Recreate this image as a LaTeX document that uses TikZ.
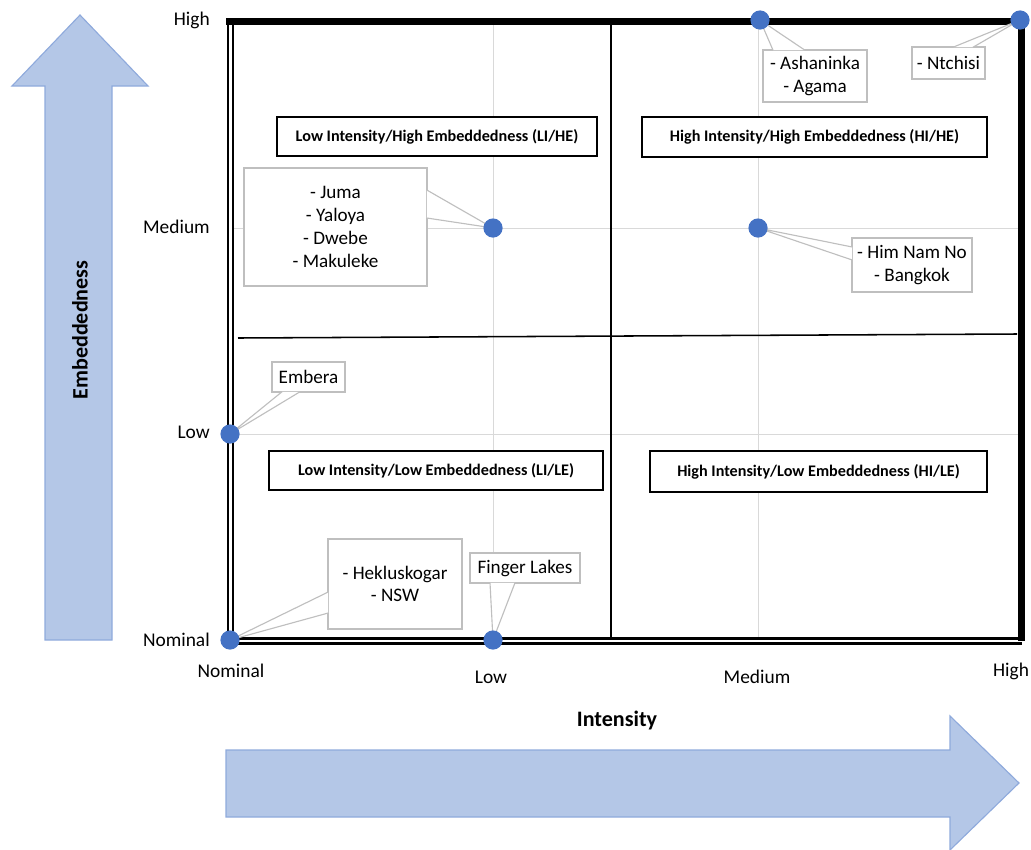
\documentclass[tikz,border=0pt]{standalone}
\usepackage{fontspec}
\setmainfont{Carlito}
\usetikzlibrary{calc}
\definecolor{dotblue}{HTML}{4472C4}
\definecolor{arrowfill}{HTML}{B4C7E7}
\definecolor{arrowline}{HTML}{8FAADC}
\definecolor{gridgray}{HTML}{D9D9D9}
\definecolor{callgray}{HTML}{BFBFBF}
\begin{document}
\begin{tikzpicture}[x={(0.025cm,0cm)}, y={(0cm,-0.025cm)}]
\useasboundingbox (0,0) rectangle (1031,849);
%styles des noeuds
\tikzstyle{tick}=[rectangle, text=black, inner sep=0pt, font=\fontsize{13.8}{16}\selectfont]
\tikzstyle{axis}=[rectangle, text=black, inner sep=0pt, font=\bfseries\fontsize{15.7}{18}\selectfont]
\tikzstyle{quad}=[rectangle, draw=black, line width=1.4pt, fill=white, inner sep=0pt, font=\bfseries\fontsize{11.5}{14}\selectfont]
\tikzstyle{callout}=[rectangle, draw=callgray, line width=0.8pt, fill=white, inner sep=0pt, align=center, font=\fontsize{13.6}{16.2}\selectfont]
\tikzstyle{wedge}=[fill=white, draw=callgray, line width=0.8pt]
\tikzstyle{dot}=[circle, fill=dotblue, inner sep=0pt, minimum size=0.48cm]
\tikzstyle{bigarrow}=[fill=arrowfill, draw=arrowline, line width=0.8pt]
%fleches
\filldraw[bigarrow] (45,640) -- (45,86) -- (12,86) -- (80,15) -- (148,86) -- (112,86) -- (112,640) -- cycle;
\filldraw[bigarrow] (226,750) -- (950,750) -- (950,716) -- (1019,783) -- (950,850) -- (950,817) -- (226,817) -- cycle;
\node[axis, rotate=90] (embed) at (80,330) {Embeddedness};
\node[axis] (intens) at (617,720) {Intensity};
%grille
\draw[gridgray, line width=0.7pt] (493,20) -- (493,640);
\draw[gridgray, line width=0.7pt] (758,20) -- (758,640);
\draw[gridgray, line width=0.7pt] (230,228) -- (1022,228);
\draw[gridgray, line width=0.7pt] (230,434) -- (1022,434);
% quadrants
\draw[line width=1.1pt] (611,20) -- (611,640);
\draw[line width=1.1pt] (238,338) -- (1017,334);
%cadre
\draw[double=white, double distance=1.7pt, line width=1.85pt] (230.5,18) -- (230.5,641) -- (1022,641);
\draw[line width=5pt] (226,21.5) -- (1021.5,21.5) -- (1021.5,641);
%graduations
\node[tick, anchor=east] (yhigh) at (210,20) {High};
\node[tick, anchor=east] (ymed) at (210,227) {Medium};
\node[tick, anchor=east] (ylow) at (210,432) {Low};
\node[tick, anchor=east] (ynom) at (210,640) {Nominal};
\node[tick] (xnom) at (231,671) {Nominal};
\node[tick] (xlow) at (491,677) {Low};
\node[tick] (xmed) at (757,677) {Medium};
\node[tick] (xhigh) at (1011,671) {High};
%text
\node[quad, minimum width=8cm, minimum height=0.975cm] (lihe) at (437,136.5) {Low Intensity/High Embeddedness (LI/HE)};
\node[quad, minimum width=8.625cm, minimum height=1cm] (hihe) at (814.5,137) {High Intensity/High Embeddedness (HI/HE)};
\node[quad, minimum width=8.35cm, minimum height=0.975cm] (lile) at (436,470.5) {Low Intensity/Low Embeddedness (LI/LE)};
\node[quad, minimum width=8.425cm, minimum height=1.025cm] (hile) at (818.5,471.5) {High Intensity/Low Embeddedness (HI/LE)};
%points
\coordinate (pAsha) at (760,20);
\coordinate (pNtchisi) at (1020,20);
\coordinate (pJuma) at (493,228);
\coordinate (pHim) at (758,228);
\coordinate (pEmbera) at (230,434);
\coordinate (pHeklu) at (230,640);
\coordinate (pFinger) at (493,640);
%bulles
\node[callout, minimum width=2.6cm, minimum height=1.3cm] (asha) at (815,76) {- Ashaninka\\- Agama};
\filldraw[wedge] ($(asha.north)+(-42,0.8)$) -- (pAsha) -- ($(asha.north)+(-10,0.8)$);
\node[callout, minimum width=1.825cm, minimum height=0.8cm] (ntchisi) at (948.5,63) {- Ntchisi};
\filldraw[wedge] ($(ntchisi.north)+(4.5,0.8)$) -- (pNtchisi) -- ($(ntchisi.north)+(24.5,0.8)$);
\node[callout, minimum width=4.575cm, minimum height=2.95cm] (juma) at (335.5,227) {- Juma\\- Yaloya\\- Dwebe\\- Makuleke};
\filldraw[wedge] ($(juma.east)+(-0.8,-37)$) -- (pJuma) -- ($(juma.east)+(-0.8,-9)$);
\node[callout, minimum width=3cm, minimum height=1.35cm] (himnam) at (912,265) {- Him Nam No\\- Bangkok};
\filldraw[wedge] ($(himnam.west)+(0.8,-18)$) -- (pHim) -- ($(himnam.west)+(0.8,-5)$);
\node[callout, minimum width=1.825cm, minimum height=0.75cm] (embera) at (308.5,377) {Embera};
\filldraw[wedge] ($(embera.south)+(-26.5,-0.8)$) -- (pEmbera) -- ($(embera.south)+(-8.5,-0.8)$);
\node[callout, minimum width=3.35cm, minimum height=2.25cm] (heklu) at (395,584) {- Hekluskogar\\- NSW};
\filldraw[wedge] ($(heklu.west)+(0.8,8)$) -- (pHeklu) -- ($(heklu.west)+(0.8,29)$);
\node[callout, minimum width=2.75cm, minimum height=0.75cm] (finger) at (525,568) {Finger Lakes};
\filldraw[wedge] ($(finger.south)+(-35,-0.8)$) -- (pFinger) -- ($(finger.south)+(-10,-0.8)$);
%cercles
\node[dot] (dAsha) at (pAsha) {};
\node[dot] (dNtchisi) at (pNtchisi) {};
\node[dot] (dJuma) at (pJuma) {};
\node[dot] (dHim) at (pHim) {};
\node[dot] (dEmbera) at (pEmbera) {};
\node[dot] (dHeklu) at (pHeklu) {};
\node[dot] (dFinger) at (pFinger) {};
\end{tikzpicture}
\end{document}
